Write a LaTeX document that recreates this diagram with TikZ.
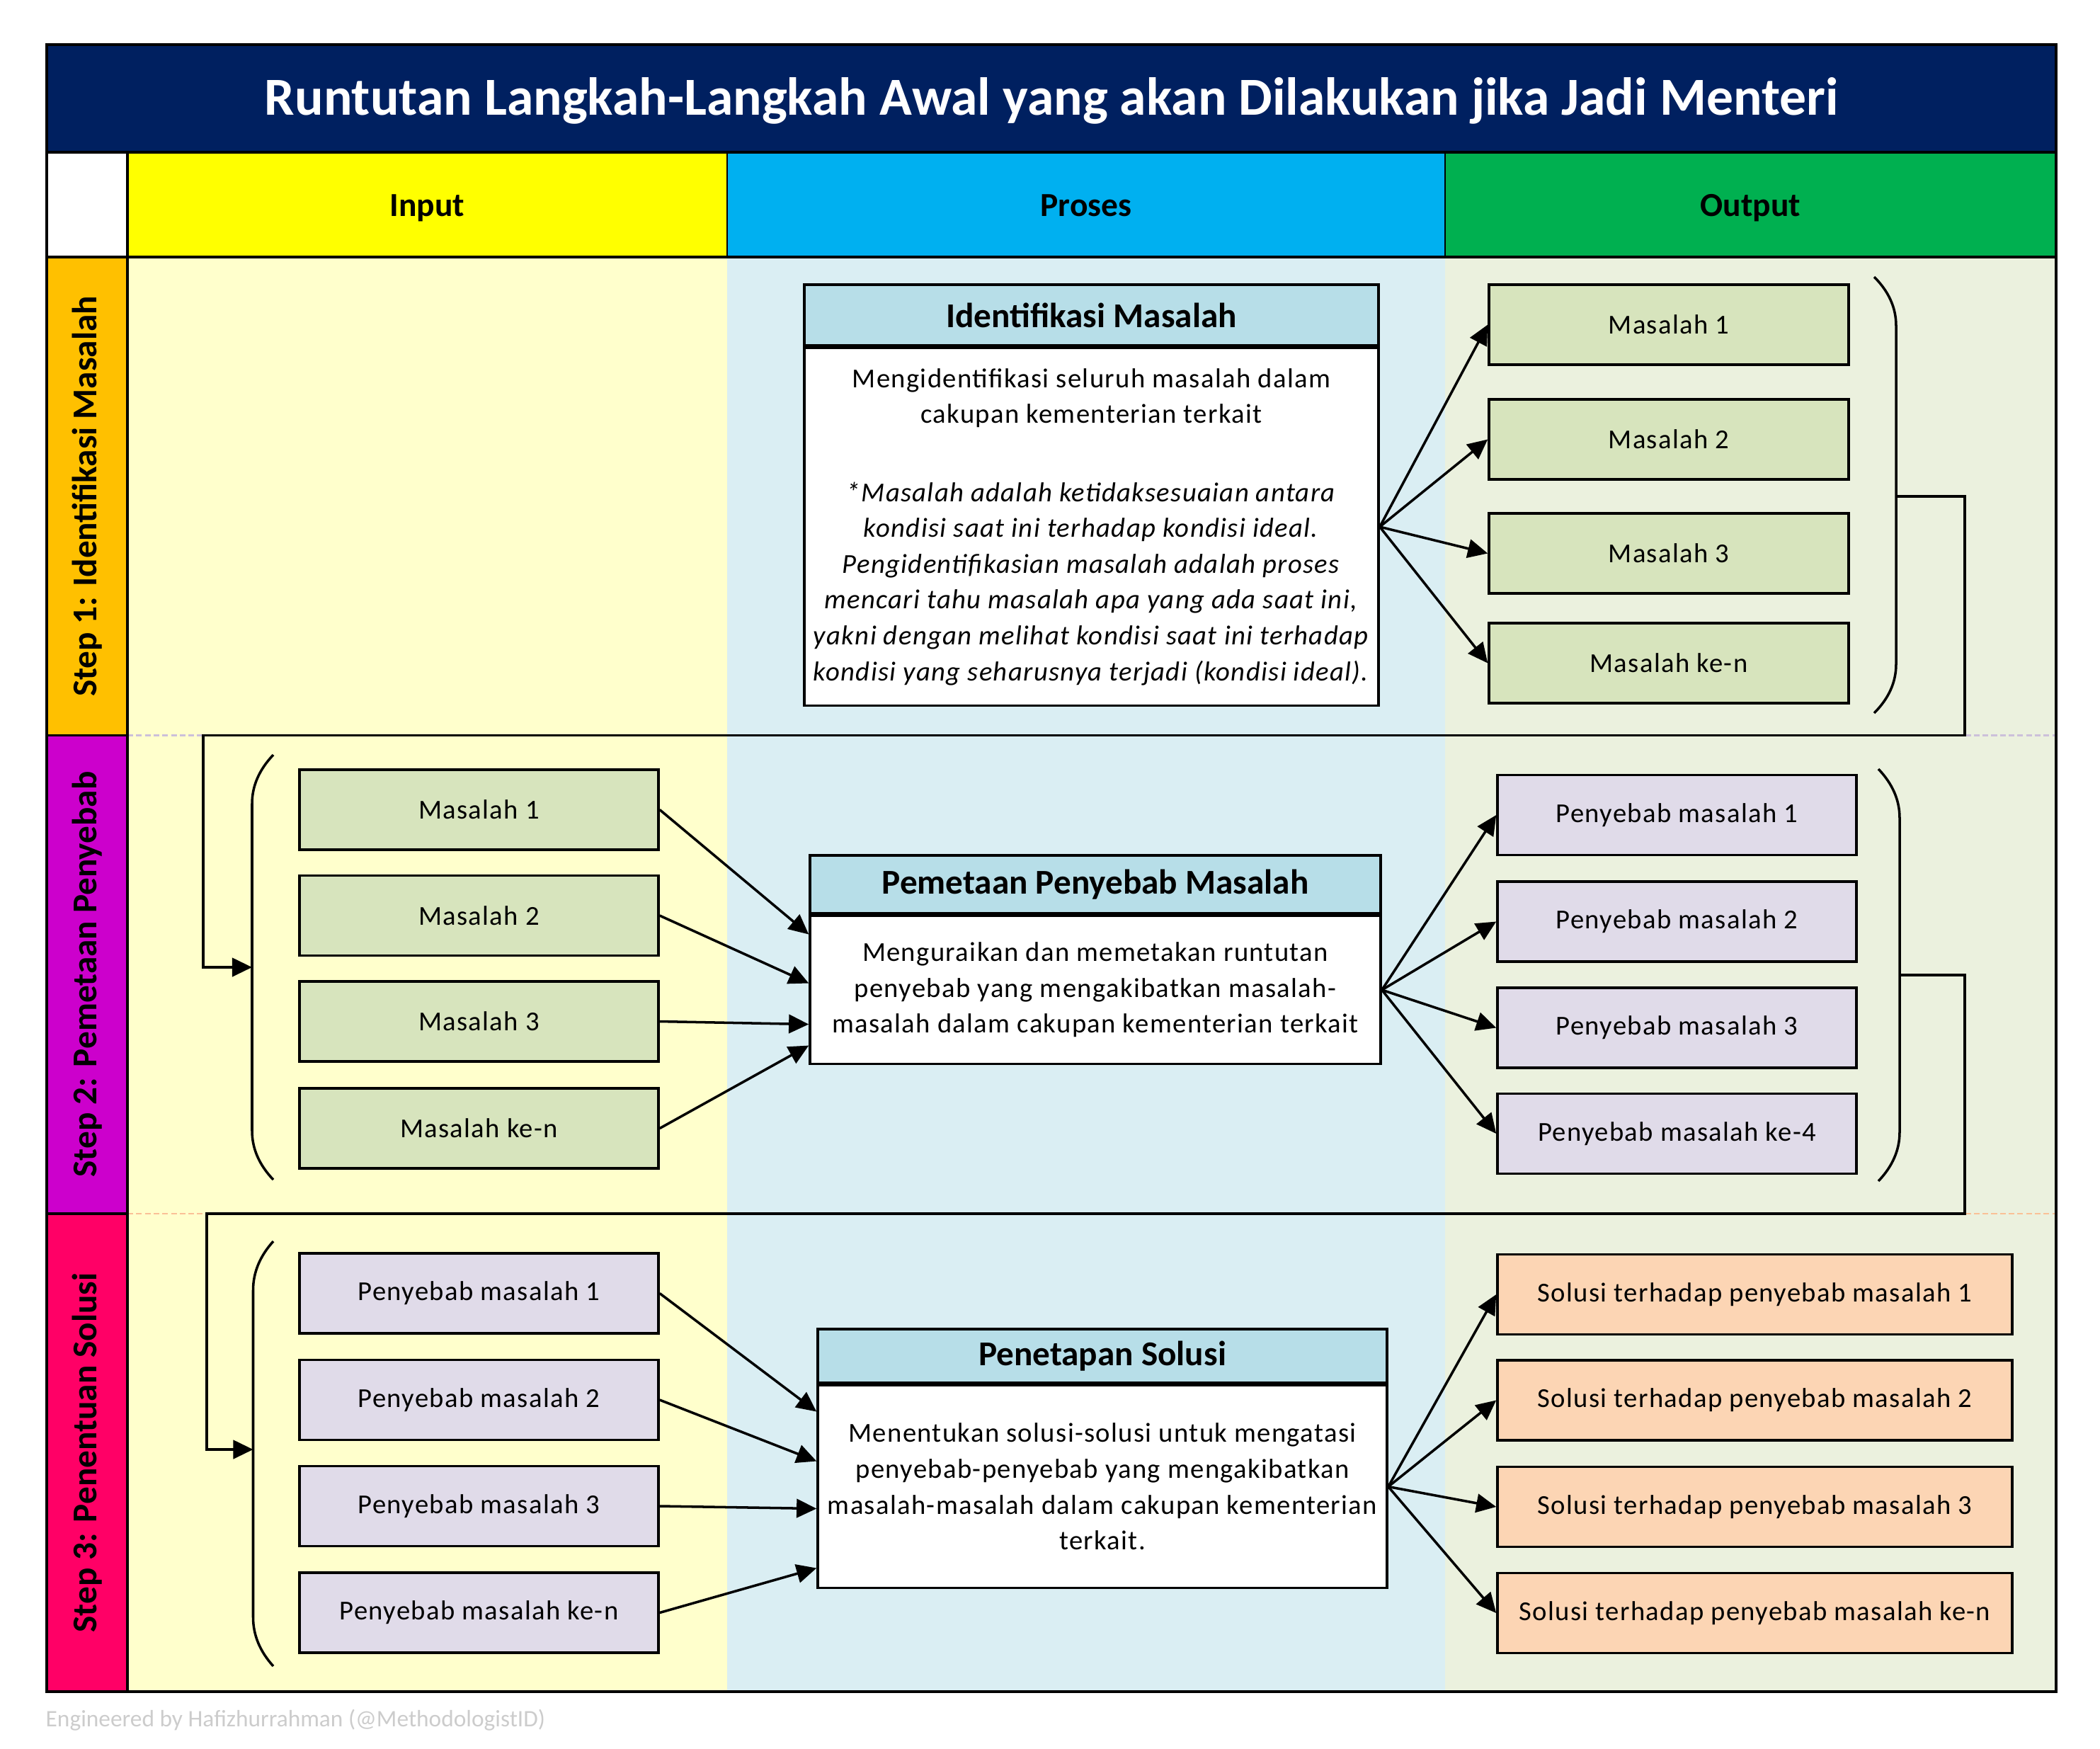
\documentclass[tikz,border=0pt]{standalone}
\definecolor{titlenavy}{RGB}{0, 32, 96}
\definecolor{inyellow}{RGB}{255, 255, 0}
\definecolor{procblue}{RGB}{0, 176, 240}
\definecolor{outgreen}{RGB}{0, 176, 80}
\definecolor{inbg}{RGB}{255, 255, 204}
\definecolor{procbg}{RGB}{218, 238, 243}
\definecolor{outbg}{RGB}{235, 241, 222}
\definecolor{steporange}{RGB}{255, 192, 0}
\definecolor{stepviolet}{RGB}{204, 0, 204}
\definecolor{steprose}{RGB}{255, 0, 102}
\definecolor{headblue}{RGB}{183, 222, 232}
\definecolor{masfill}{RGB}{215, 228, 189}
\definecolor{sebabfill}{RGB}{224, 219, 233}
\definecolor{solfill}{RGB}{252, 213, 180}
\definecolor{lavline}{RGB}{204, 192, 218}
\definecolor{peachline}{RGB}{250, 192, 150}
\usepackage{fontspec}
\setmainfont{Carlito}
\newcommand{\bodyfont}{\fontsize{11}{14.4}\selectfont\addfontfeature{LetterSpace=3.5}}
\usepackage{tikz}
\usetikzlibrary{arrows.meta, positioning}

\begin{document}
\begin{tikzpicture}[x=1cm, y=-1cm,
  itembox/.style={draw, line width=1pt, minimum width=5.07cm, minimum height=1.13cm, inner sep=0pt, font=\bodyfont},
  prochead/.style={draw, line width=1pt, fill=headblue, inner sep=0pt, font=\fontsize{14}{17}\selectfont\bfseries},
  procbody/.style={draw, line width=1pt, fill=white, inner sep=0pt, align=center, font=\bodyfont},
  colhead/.style={font=\fontsize{13.5}{16}\selectfont\bfseries, text height=1.6ex, text depth=0.4ex},
  arr/.style={-{Triangle[length=8pt, width=7.5pt]}, line width=1pt},
  bracket/.style={line width=1pt},
  steplabel/.style={rotate=90, font=\fontsize{14}{17}\selectfont\bfseries}]
  \useasboundingbox (0,0) rectangle (29.66,24.70);

  % Table background
  \fill[titlenavy] (0.66,0.63) rectangle (29.04,2.15);
  \fill[inyellow] (1.80,2.15) rectangle (10.27,3.63);
  \fill[procblue] (10.27,2.15) rectangle (20.41,3.63);
  \fill[outgreen] (20.41,2.15) rectangle (29.04,3.63);
  \fill[inbg] (1.80,3.63) rectangle (10.27,23.89);
  \fill[procbg] (10.27,3.63) rectangle (20.41,23.89);
  \fill[outbg] (20.41,3.63) rectangle (29.04,23.89);
  \fill[steporange] (0.66,3.63) rectangle (1.80,10.385);
  \fill[stepviolet] (0.66,10.385) rectangle (1.80,17.14);
  \fill[steprose] (0.66,17.14) rectangle (1.80,23.89);
  \draw[lavline, line width=0.6pt, dash pattern=on 2.3pt off 1.2pt] (1.80,10.385) -- (29.04,10.385);
  \draw[peachline, line width=0.6pt, dash pattern=on 2.3pt off 1.2pt] (1.80,17.14) -- (29.04,17.14);
  \draw[line width=0.5pt] (10.27,2.15) -- (10.27,3.63) (20.41,2.15) -- (20.41,3.63);
  \draw[line width=1pt] (0.66,2.15) -- (29.04,2.15) (0.66,3.63) -- (29.04,3.63)
    (1.80,2.15) -- (1.80,23.89) (0.66,10.385) -- (1.80,10.385) (0.66,17.14) -- (1.80,17.14);
  \draw[line width=1pt] (0.66,0.63) rectangle (29.04,23.89);

  \node[text=white, font=\fontsize{21.5}{26}\selectfont\bfseries] (title) at (14.85,1.42) {Runtutan Langkah-Langkah Awal yang akan Dilakukan jika Jadi Menteri};
  \node[colhead] (hin) at (6.035,2.95) {Input};
  \node[colhead] (hproc) at (15.34,2.95) {Proses};
  \node[colhead] (hout) at (24.725,2.95) {Output};
  \node[steplabel] (s1) at (1.23,7.01) {Step 1: Identifikasi Masalah};
  \node[steplabel] (s2) at (1.23,13.76) {Step 2: Pemetaan Penyebab};
  \node[steplabel] (s3) at (1.23,20.515) {Step 3: Penentuan Solusi};

  % Step 1
  \node[prochead, minimum width=8.11cm, minimum height=0.86cm] (p1h) at (15.415,4.45) {Identifikasi Masalah};
  \node[procbody, minimum width=8.11cm, minimum height=5.05cm, below=0pt of p1h] (p1b) {
    Mengidentifikasi seluruh masalah dalam\\
    cakupan kementerian terkait\\[17pt]
    \textit{*Masalah adalah ketidaksesuaian antara}\\
    \textit{kondisi saat ini terhadap kondisi ideal.}\\
    \textit{Pengidentifikasian masalah adalah proses}\\
    \textit{mencari tahu masalah apa yang ada saat ini,}\\
    \textit{yakni dengan melihat kondisi saat ini terhadap}\\
    \textit{kondisi yang seharusnya terjadi (kondisi ideal).}
  };
  \node[itembox, fill=masfill, minimum width=5.08cm] (o11) at (23.57,4.585) {Masalah 1};
  \node[itembox, fill=masfill, minimum width=5.08cm] (o12) at (23.57,6.205) {Masalah 2};
  \node[itembox, fill=masfill, minimum width=5.08cm] (o13) at (23.57,7.815) {Masalah 3};
  \node[itembox, fill=masfill, minimum width=5.08cm] (o14) at (23.57,9.365) {Masalah ke-n};
  \path (p1b.east) edge[arr] (o11.west) edge[arr] (o12.west) edge[arr] (o13.west) edge[arr] (o14.west);
  \draw[bracket] (26.47,3.91) .. controls (26.68,4.12) and (26.78,4.35) .. (26.78,4.60) -- (26.78,9.38) .. controls (26.78,9.63) and (26.68,9.86) .. (26.47,10.07);
  \coordinate (b1out) at (26.78,7.01);

  % Step 2
  \draw[bracket] (3.86,10.66) .. controls (3.66,10.87) and (3.56,11.10) .. (3.56,11.35) -- (3.56,15.97) .. controls (3.56,16.22) and (3.66,16.45) .. (3.86,16.66);
  \coordinate (b2in) at (3.56,13.66);
  \draw[arr] (b1out) -| (27.75,10.385) -| (2.87,13.66) -- (b2in);
  \node[itembox, fill=masfill] (i21) at (6.765,11.435) {Masalah 1};
  \node[itembox, fill=masfill] (i22) at (6.765,12.93) {Masalah 2};
  \node[itembox, fill=masfill] (i23) at (6.765,14.425) {Masalah 3};
  \node[itembox, fill=masfill] (i24) at (6.765,15.935) {Masalah ke-n};
  \node[prochead, minimum width=8.06cm, minimum height=0.82cm] (p2h) at (15.47,12.49) {Pemetaan Penyebab Masalah};
  \node[procbody, minimum width=8.06cm, minimum height=2.09cm, below=0pt of p2h] (p2b) {
    Menguraikan dan memetakan runtutan\\
    penyebab yang mengakibatkan masalah-\\
    masalah dalam cakupan kementerian terkait
  };
  \draw[arr] (i21.east) -- ([yshift=0.785cm]p2b.west);
  \draw[arr] (i22.east) -- ([yshift=0.095cm]p2b.west);
  \draw[arr] (i23.east) -- ([yshift=-0.485cm]p2b.west);
  \draw[arr] (i24.east) -- ([yshift=-0.785cm]p2b.west);
  \node[itembox, fill=sebabfill] (o21) at (23.685,11.51) {Penyebab masalah 1};
  \node[itembox, fill=sebabfill] (o22) at (23.685,13.015) {Penyebab masalah 2};
  \node[itembox, fill=sebabfill] (o23) at (23.685,14.515) {Penyebab masalah 3};
  \node[itembox, fill=sebabfill] (o24) at (23.685,16.01) {Penyebab masalah ke-4};
  \path (p2b.east) edge[arr] (o21.west) edge[arr] (o22.west) edge[arr] (o23.west) edge[arr] (o24.west);
  \draw[bracket] (26.53,10.86) .. controls (26.73,11.07) and (26.83,11.30) .. (26.83,11.55) -- (26.83,15.99) .. controls (26.83,16.24) and (26.73,16.47) .. (26.53,16.68);
  \coordinate (b2out) at (26.83,13.77);

  % Step 3
  \draw[bracket] (3.86,17.53) .. controls (3.67,17.74) and (3.575,17.97) .. (3.575,18.22) -- (3.575,22.84) .. controls (3.575,23.09) and (3.67,23.32) .. (3.86,23.53);
  \coordinate (b3in) at (3.575,20.47);
  \draw[arr] (b2out) -| (27.75,17.14) -| (2.92,20.47) -- (b3in);
  \node[itembox, fill=sebabfill] (i31) at (6.765,18.265) {Penyebab masalah 1};
  \node[itembox, fill=sebabfill] (i32) at (6.765,19.77) {Penyebab masalah 2};
  \node[itembox, fill=sebabfill] (i33) at (6.765,21.27) {Penyebab masalah 3};
  \node[itembox, fill=sebabfill] (i34) at (6.765,22.775) {Penyebab masalah ke-n};
  \node[prochead, minimum width=8.04cm, minimum height=0.76cm] (p3h) at (15.57,19.15) {Penetapan Solusi};
  \node[procbody, minimum width=8.04cm, minimum height=2.86cm, below=0pt of p3h] (p3b) {
    Menentukan solusi-solusi untuk mengatasi\\
    penyebab-penyebab yang mengakibatkan\\
    masalah-masalah dalam cakupan kementerian\\
    terkait.
  };
  \draw[arr] (i31.east) -- ([yshift=1.06cm]p3b.west);
  \draw[arr] (i32.east) -- ([yshift=0.36cm]p3b.west);
  \draw[arr] (i33.east) -- ([yshift=-0.31cm]p3b.west);
  \draw[arr] (i34.east) -- ([yshift=-1.15cm]p3b.west);
  \node[itembox, fill=solfill, minimum width=7.27cm] (o31) at (24.785,18.28) {Solusi terhadap penyebab masalah 1};
  \node[itembox, fill=solfill, minimum width=7.27cm] (o32) at (24.785,19.775) {Solusi terhadap penyebab masalah 2};
  \node[itembox, fill=solfill, minimum width=7.27cm] (o33) at (24.785,21.28) {Solusi terhadap penyebab masalah 3};
  \node[itembox, fill=solfill, minimum width=7.27cm] (o34) at (24.785,22.78) {Solusi terhadap penyebab masalah ke-n};
  \path (p3b.east) edge[arr] (o31.west) edge[arr] (o32.west) edge[arr] (o33.west) edge[arr] (o34.west);

  \node[anchor=west, inner sep=0pt, text=gray!40, font=\fontsize{9.5}{11}\selectfont] (credit) at (0.64,24.29) {Engineered by Hafizhurrahman (@MethodologistID)};
\end{tikzpicture}
\end{document}
